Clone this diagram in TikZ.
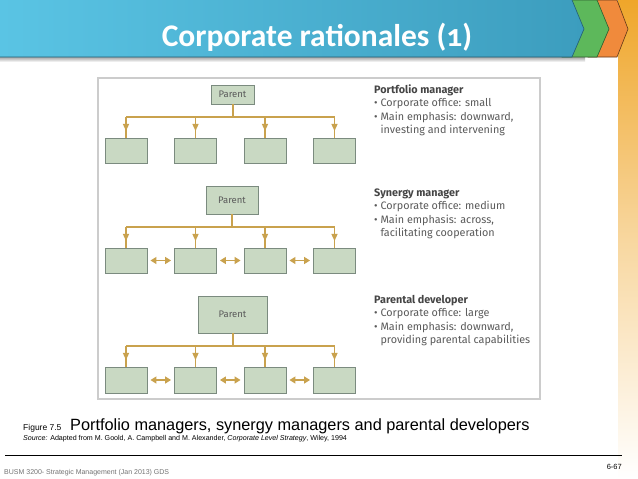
\documentclass[tikz,border=0pt]{standalone}
\usepackage{fontspec}
\setmainfont{Liberation Sans}
\newfontfamily\titlefont[Numbers=OldStyle]{Carlito}
\newfontfamily\labelfont{Fira Sans}
\usetikzlibrary{arrows.meta,decorations.markings}
\definecolor{boxfill}{HTML}{C9D9C3}
\definecolor{boxborder}{HTML}{7B8B7F}
\definecolor{gold}{HTML}{C9A24E}
\definecolor{blueL}{HTML}{5AC4E4}
\definecolor{blueR}{HTML}{3C9DBE}
\definecolor{chevgreen}{HTML}{5DB85B}
\definecolor{chevorange}{HTML}{F08A3C}
\definecolor{barorange}{HTML}{EFA62A}
\definecolor{txtgray}{HTML}{5A5A5A}
\definecolor{headgray}{HTML}{454545}
\tikzset{
  box/.style={draw=boxborder, fill=boxfill, line width=0.9, inner sep=0,
    minimum width=42, minimum height=25},
  parentbox/.style={box, font=\labelfont\fontsize{9.5}{10}\selectfont, text=txtgray},
  conn/.style={draw=gold, line width=1.3},
  midarrow/.style={postaction={decorate}, decoration={markings,
    mark=at position 0.68 with {\arrow[gold]{Triangle[width=6,length=7]}}}},
  dbl/.style={conn, {Triangle[width=7,length=6]}-{Triangle[width=7,length=6]},
    shorten >=3, shorten <=3},
  rhead/.style={anchor=base west, inner sep=0, text=headgray,
    font=\labelfont\bfseries\fontsize{10.8}{12}\selectfont},
  rtext/.style={anchor=base west, inner sep=0, text=txtgray,
    font=\labelfont\fontsize{10.8}{12}\selectfont},
}
\begin{document}
\begin{tikzpicture}[x=1pt,y=-1pt]
\useasboundingbox (0,0) rectangle (638,479);
\fill[white] (0,0) rectangle (638,479);
% right orange bar
\shade[top color=barorange, bottom color=white, middle color=barorange!45] (618,0) rectangle (638,479);
% header shadow
\shade[top color=black!35, bottom color=white] (0,57) rectangle (585,62);
% chevrons
\fill[chevorange, draw=black!60!chevorange, line width=0.6] (588,0) -- (617,0) -- (628,29) -- (617,57) -- (588,57) -- cycle;
\fill[chevgreen, draw=black!50!chevgreen, line width=0.6] (562,0) -- (597,0) -- (609,29) -- (597,57) -- (562,57) -- cycle;
% blue header
\shade[left color=blueL, right color=blueR] (0,0) -- (572,0) -- (584,29) -- (572,57) -- (0,57) -- cycle;
\draw[black!40!blueR, line width=0.6] (572,0) -- (584,29) -- (572,57) -- (0,57);
\node[text=white, font=\titlefont\bfseries\fontsize{31.5}{36}\selectfont] (title) at (317,37) {Corporate rationales (1)};

% figure frame
\draw[black!20, line width=1.2] (98,78) rectangle (540,399);

% ---- Portfolio manager
\node[parentbox, minimum width=43, minimum height=19] (p1) at (232.5,94.5) {Parent};
\node[box] (c11) at (126,150.5) {};
\node[box] (c12) at (195.5,150.5) {};
\node[box] (c13) at (265,150.5) {};
\node[box] (c14) at (334.5,150.5) {};
\coordinate (b1) at (232.5,117);
\draw[conn, line width=2] (p1.south) -- (b1);
\draw[conn] (c11.north |- b1) -- (c14.north |- b1);
\foreach \c in {c11,c12,c13,c14} \draw[conn, midarrow] (\c.north |- b1) -- (\c.north);

\node[rhead] (t1) at (374,93) {Portfolio manager};
\node[rtext] (t1a) at (374,106.5) {\textbullet\ Corporate office: small};
\node[rtext] (t1b) at (374,120) {\textbullet\ Main emphasis: downward,};
\node[rtext] (t1c) at (374,133.5) {\hphantom{\textbullet\ }investing and intervening};

% ---- Synergy manager
\node[parentbox, minimum width=52, minimum height=28] (p2) at (232,200) {Parent};
\node[box] (c21) at (126,260.5) {};
\node[box] (c22) at (195.5,260.5) {};
\node[box] (c23) at (265,260.5) {};
\node[box] (c24) at (334.5,260.5) {};
\coordinate (b2) at (232,227);
\draw[conn, line width=2] (p2.south) -- (b2);
\draw[conn] (c21.north |- b2) -- (c24.north |- b2);
\foreach \c in {c21,c22,c23,c24} \draw[conn, midarrow] (\c.north |- b2) -- (\c.north);
\draw[dbl] (c21.east) -- (c22.west);
\draw[dbl] (c22.east) -- (c23.west);
\draw[dbl] (c23.east) -- (c24.west);

\node[rhead] (t2) at (374,196) {Synergy manager};
\node[rtext] (t2a) at (374,209.5) {\textbullet\ Corporate office: medium};
\node[rtext] (t2b) at (374,223) {\textbullet\ Main emphasis: across,};
\node[rtext] (t2c) at (374,236.5) {\hphantom{\textbullet\ }facilitating cooperation};

% ---- Parental developer
\node[parentbox, minimum width=69, minimum height=37] (p3) at (232.5,314.5) {Parent};
\node[box, minimum height=26] (c31) at (126,380) {};
\node[box, minimum height=26] (c32) at (195.5,380) {};
\node[box, minimum height=26] (c33) at (265,380) {};
\node[box, minimum height=26] (c34) at (334.5,380) {};
\coordinate (b3) at (232.5,346);
\draw[conn, line width=2] (p3.south) -- (b3);
\draw[conn] (c31.north |- b3) -- (c34.north |- b3);
\foreach \c in {c31,c32,c33,c34} \draw[conn, midarrow] (\c.north |- b3) -- (\c.north);
\draw[dbl] (c31.east) -- (c32.west);
\draw[dbl] (c32.east) -- (c33.west);
\draw[dbl] (c33.east) -- (c34.west);

\node[rhead] (t3) at (374,303) {Parental developer};
\node[rtext] (t3a) at (374,316.5) {\textbullet\ Corporate office: large};
\node[rtext] (t3b) at (374,330) {\textbullet\ Main emphasis: downward,};
\node[rtext] (t3c) at (374,343.5) {\hphantom{\textbullet\ }providing parental capabilities};

% ---- caption
\node[anchor=base west, inner sep=0, font=\fontsize{8.5}{10}\selectfont] (fig) at (23,430) {Figure 7.5};
\node[anchor=base west, inner sep=0, font=\fontsize{16.3}{18}\selectfont] (cap) at (70,430) {Portfolio managers, synergy managers and parental developers};
\node[anchor=base west, inner sep=0, font=\fontsize{7.1}{8}\selectfont] (src) at (23,440) {\textit{Source:} Adapted from M. Goold, A. Campbell and M. Alexander, \textit{Corporate Level Strategy}, Wiley, 1994};
\draw[black, line width=1] (5,455) -- (622,455);
\node[anchor=base west, inner sep=0, text=black!55, font=\fontsize{7}{8}\selectfont] (foot) at (4,474) {BUSM 3200- Strategic Management (Jan 2013) GDS};
\node[anchor=base east, inner sep=0, font=\fontsize{7.5}{8}\selectfont] (pg) at (622,469) {6-67};
\end{tikzpicture}
\end{document}
